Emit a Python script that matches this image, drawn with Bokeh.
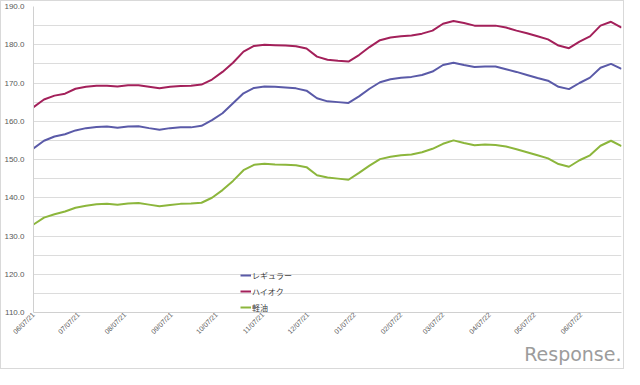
import math
import pandas as pd
from bokeh.plotting import figure
from bokeh.models import (ColumnDataSource, Range1d, FixedTicker, NumeralTickFormatter,
                          Legend, LegendItem, Title, DatetimeTickFormatter)
from bokeh.embed import file_html
from bokeh.resources import INLINE

# ---------------- data ----------------
start_date = "2021-06-07"
n_points = 57
dates = pd.date_range(start_date, periods=n_points, freq="7D")

series_names = ["レギュラー", "ハイオク", "軽油"]

regular = [152.9, 154.9, 156.0, 156.6, 157.6, 158.2, 158.5, 158.6, 158.3, 158.6, 158.7, 158.2, 157.8, 158.2, 158.4,
           158.4, 158.8, 160.3, 162.1, 164.7, 167.3, 168.7, 169.1, 169.0, 168.8, 168.6, 168.0, 166.0, 165.2,
           165.0, 164.8, 166.5, 168.5, 170.2, 171.0, 171.4, 171.6, 172.1, 173.0, 174.7, 175.3, 174.7, 174.2,
           174.3, 174.3, 173.6, 172.9, 172.1, 171.3, 170.6, 169.0, 168.4, 170.0, 171.4, 174.0, 175.0, 173.7]

premium = [163.7, 165.7, 166.7, 167.2, 168.5, 169.0, 169.3, 169.3, 169.1, 169.4, 169.4, 169.0, 168.6, 169.0, 169.2,
           169.3, 169.6, 170.9, 172.9, 175.3, 178.2, 179.7, 180.0, 179.9, 179.8, 179.6, 179.0, 176.9, 176.1,
           175.8, 175.6, 177.3, 179.4, 181.2, 181.9, 182.2, 182.4, 182.9, 183.7, 185.5, 186.2, 185.7, 185.0,
           185.0, 185.0, 184.5, 183.7, 183.0, 182.2, 181.4, 179.8, 179.1, 180.8, 182.2, 185.0, 186.0, 184.5]

diesel = [133.0, 134.8, 135.7, 136.4, 137.4, 137.9, 138.3, 138.4, 138.2, 138.5, 138.6, 138.2, 137.8, 138.1, 138.4,
          138.5, 138.7, 140.0, 142.0, 144.4, 147.2, 148.6, 148.9, 148.7, 148.6, 148.5, 148.0, 145.9, 145.3,
          145.0, 144.7, 146.5, 148.4, 150.1, 150.7, 151.1, 151.3, 151.9, 152.8, 154.1, 155.0, 154.3, 153.7,
          153.9, 153.8, 153.4, 152.7, 151.9, 151.1, 150.3, 148.8, 148.1, 149.8, 151.1, 153.6, 154.9, 153.5]

x_tick_labels = ["06/07/21", "07/07/21", "08/07/21", "09/07/21", "10/07/21", "11/07/21", "12/07/21",
                 "01/07/22", "02/07/22", "03/07/22", "04/07/22", "05/07/22", "06/07/22"]
y_ticks = [110, 120, 130, 140, 150, 160, 170, 180, 190]
y_minor_ticks = [115, 125, 135, 145, 155, 165, 175, 185]

colors = ["#5a5aa8", "#a3205a", "#8cb63c"]

# ---------------- figure ----------------
src = ColumnDataSource(dict(date=dates, regular=regular, premium=premium, diesel=diesel))

p = figure(width=624, height=369, x_axis_type="datetime", output_backend="svg", toolbar_location=None,
           x_range=Range1d(dates[0], dates[-1]), y_range=Range1d(110, 190),
           min_border_left=23, min_border_right=4, min_border_top=5, min_border_bottom=58)
p.styles = {"border": "1px solid #d9d9d9"}
p.outline_line_color = None
p.background_fill_color = "white"
p.border_fill_color = "white"

renderers = []
for col, c in zip(["regular", "premium", "diesel"], colors):
    r = p.line("date", col, source=src, line_color=c, line_width=2)
    renderers.append(r)

# x axis
tick_dates = pd.to_datetime(x_tick_labels, format="%m/%d/%y")
tick_ms = [int(d.value // 10**6) for d in tick_dates]
p.xaxis.ticker = FixedTicker(ticks=tick_ms)
fmt = "%m/%d/%y"
p.xaxis.formatter = DatetimeTickFormatter(days=fmt, months=fmt, years=fmt, hours=fmt, minutes=fmt,
                                          hourmin=fmt, seconds=fmt, minsec=fmt, milliseconds=fmt,
                                          microseconds=fmt)
p.xaxis.major_label_overrides = {ms: lab for ms, lab in zip(tick_ms, x_tick_labels)}
p.xaxis.major_label_orientation = math.pi / 4
p.xaxis.major_label_text_font_size = "7px"
p.xaxis.major_label_text_font = "Liberation Sans"
p.xaxis.major_label_text_color = "#595959"
p.xaxis.major_label_standoff = 1
p.xaxis.major_tick_out = 0
p.xaxis.major_tick_line_color = None
p.xaxis.minor_tick_line_color = None
p.xaxis.axis_line_color = "#d0d0d0"
p.xgrid.grid_line_color = None

# y axis
p.yaxis.ticker = FixedTicker(ticks=y_ticks, minor_ticks=y_minor_ticks)
p.yaxis.formatter = NumeralTickFormatter(format="0.0")
p.yaxis.major_label_text_font_size = "8px"
p.yaxis.major_label_text_font = "Liberation Sans"
p.yaxis.major_label_text_color = "#595959"
p.yaxis.major_label_standoff = 3
p.yaxis.major_tick_line_color = None
p.yaxis.minor_tick_line_color = None
p.yaxis.axis_line_color = "#d0d0d0"
p.ygrid.grid_line_color = "#dcdcdc"
p.ygrid.minor_grid_line_color = "#dcdcdc"

# legend
legend = Legend(items=[LegendItem(label=n, renderers=[r]) for n, r in zip(series_names, renderers)],
                location=(207, -1))
legend.background_fill_alpha = 0
legend.border_line_color = None
legend.padding = 0
legend.margin = 0
legend.spacing = 4
legend.glyph_width = 11
legend.glyph_height = 12
legend.label_height = 12
legend.label_standoff = 1
legend.label_text_font_size = "8px"
legend.label_text_font = "Noto Sans CJK JP"
legend.label_text_color = "#404040"
p.add_layout(legend)

# watermark
logo = Title(text="Response.", align="right", text_font_size="19px", text_font="DejaVu Sans",
             text_font_style="normal", text_color="#9c9c9c", standoff=0, offset=0,
             text_line_height=0.9)
p.add_layout(logo, "below")

open("out.html", "w").write(file_html(p, INLINE))
